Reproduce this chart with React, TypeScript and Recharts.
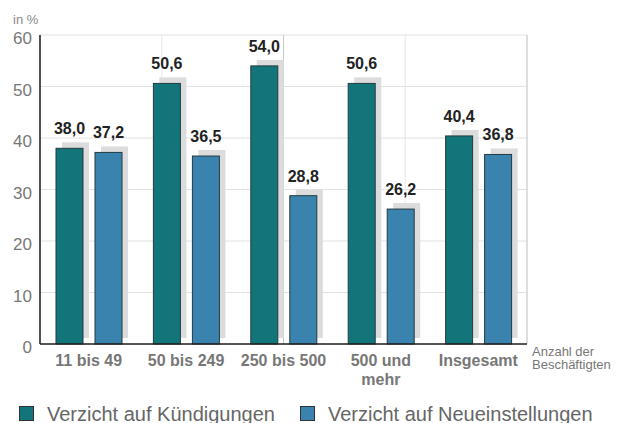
import React from "react";
import {
  BarChart,
  Bar,
  XAxis,
  YAxis,
  CartesianGrid,
  Legend,
  LabelList,
  Text,
} from "recharts";

const categories = ["11 bis 49", "50 bis 249", "250 bis 500", "500 und mehr", "Insgesamt"];
const kuendigungen = [38.0, 50.6, 54.0, 50.6, 40.4];
const neueinstellungen = [37.2, 36.5, 28.8, 26.2, 36.8];
const yTicks = [0, 10, 20, 30, 40, 50, 60];
const seriesNames = ["Verzicht auf Kündigungen", "Verzicht auf Neueinstellungen"];
const seriesColors = ["#12757a", "#3a83ae"];
const yUnit = "in %";
const xTitle = ["Anzahl der", "Beschäftigten"];

const data = categories.map((cat, i) => ({
  cat,
  k: kuendigungen[i],
  n: neueinstellungen[i],
}));

// grid helper ticks (category centres and category boundaries on a 0..2n scale)
const midTicks = categories.map((_, i) => 2 * i + 1);
const edgeTicks = categories.map((_, i) => 2 * i + 2);

const FONT = "'Liberation Sans', Arial, Helvetica, sans-serif";

const fmt = (v: number) => v.toFixed(1).replace(".", ",");

const ShadowBar = (props: any) => {
  const { x, y, width, height, fill } = props;
  if (width == null || height == null) return null;
  return (
    <g>
      <rect x={x + 6} y={y - 6} width={width} height={height} fill="#dcdcdc" />
      <rect x={x} y={y} width={width} height={height} fill={fill} stroke="#233b40" strokeWidth={1} />
    </g>
  );
};

const ValueLabel = (props: any) => {
  const { x, y, width, value } = props;
  return (
    <text
      x={x + width / 2}
      y={y - 14}
      textAnchor="middle"
      fontSize={16}
      fontWeight={700}
      fontFamily={FONT}
      fill="#222"
    >
      {fmt(value)}
    </text>
  );
};

const XTick = (props: any) => {
  const { x, y, payload } = props;
  const style = { fontSize: 16, fontWeight: 700, fontFamily: FONT } as any;
  return (
    <Text
      x={x}
      y={y + 11}
      width={95}
      textAnchor="middle"
      verticalAnchor="start"
      lineHeight={19}
      fill="#777"
      style={style}
      fontSize={16}
      fontWeight={700}
      fontFamily={FONT}
    >
      {payload.value}
    </Text>
  );
};

const YTick = (props: any) => {
  const { x, y, payload } = props;
  return (
    <text x={x} y={y + 9} textAnchor="end" fontSize={17} fontFamily={FONT} fill="#777">
      {payload.value}
    </text>
  );
};

const renderLegend = () => (
  <div
    style={{
      height: 35,
      boxSizing: "border-box",
      paddingTop: 16,
      paddingLeft: 19,
      display: "flex",
      alignItems: "center",
      fontFamily: FONT,
      fontSize: 20,
      color: "#666",
      whiteSpace: "nowrap",
    }}
  >
    {seriesNames.map((name, i) => (
      <div key={name} style={{ display: "flex", alignItems: "center", marginRight: 25 }}>
        <span
          style={{
            display: "inline-block",
            width: 13,
            height: 13,
            background: seriesColors[i],
            border: "1px solid #333",
            marginRight: 13,
          }}
        />
        <span style={{ lineHeight: "20px" }}>{name}</span>
      </div>
    ))}
  </div>
);

export default function App() {
  return (
    <div style={{ position: "absolute", left: 0, top: 0, width: 617, height: 423, background: "#fff" }}>
      <BarChart
        width={617}
        height={423}
        data={data}
        margin={{ top: 35, right: 90, left: 0, bottom: 0 }}
        barSize={27}
        barGap={12}
      >
        <CartesianGrid vertical={false} stroke="#e2e2e2" yAxisId="y" xAxisId="cat" />
        <CartesianGrid horizontal={false} stroke="#e6e6e6" xAxisId="mid" yAxisId="y" />
        <CartesianGrid horizontal={false} stroke="#c8c8c8" xAxisId="edge" yAxisId="y" />
        <XAxis
          xAxisId="cat"
          dataKey="cat"
          height={44}
          axisLine={{ stroke: "#222", strokeWidth: 1.5 }}
          tickLine={false}
          tickSize={0}
          tickMargin={0}
          interval={0}
          tick={<XTick />}
          label={{
            content: (p: any) => {
              const vb = p.viewBox || {};
              const lx = (vb.x || 0) + (vb.width || 0) + 5;
              const ly = vb.y || 0;
              return (
                <text fontSize={13} fontFamily={FONT} fill="#777">
                  <tspan x={lx} y={ly + 12}>{xTitle[0]}</tspan>
                  <tspan x={lx} y={ly + 25}>{xTitle[1]}</tspan>
                </text>
              );
            },
          }}
        />
        <XAxis
          xAxisId="mid"
          type="number"
          domain={[0, categories.length * 2]}
          allowDataOverflow
          ticks={midTicks}
          hide
        />
        <XAxis
          xAxisId="edge"
          type="number"
          domain={[0, categories.length * 2]}
          allowDataOverflow
          ticks={edgeTicks}
          hide
        />
        <YAxis
          yAxisId="y"
          width={40}
          domain={[0, 60]}
          ticks={yTicks}
          interval={0}
          axisLine={{ stroke: "#222", strokeWidth: 1.5 }}
          tickLine={false}
          tickSize={0}
          tickMargin={8}
          tick={<YTick />}
          label={{
            content: (p: any) => {
              const vb = p.viewBox || {};
              return (
                <text x={(vb.x || 0) + 13} y={(vb.y || 0) - 11} fontSize={13} fontFamily={FONT} fill="#888">
                  {yUnit}
                </text>
              );
            },
          }}
        />
        <Legend verticalAlign="bottom" content={renderLegend} wrapperStyle={{ left: 0, width: 617 }} />
        <Bar
          xAxisId="cat"
          yAxisId="y"
          dataKey="k"
          name={seriesNames[0]}
          fill={seriesColors[0]}
          shape={<ShadowBar />}
          isAnimationActive={false}
        >
          <LabelList dataKey="k" content={<ValueLabel />} />
        </Bar>
        <Bar
          xAxisId="cat"
          yAxisId="y"
          dataKey="n"
          name={seriesNames[1]}
          fill={seriesColors[1]}
          shape={<ShadowBar />}
          isAnimationActive={false}
        >
          <LabelList dataKey="n" content={<ValueLabel />} />
        </Bar>
      </BarChart>
    </div>
  );
}
